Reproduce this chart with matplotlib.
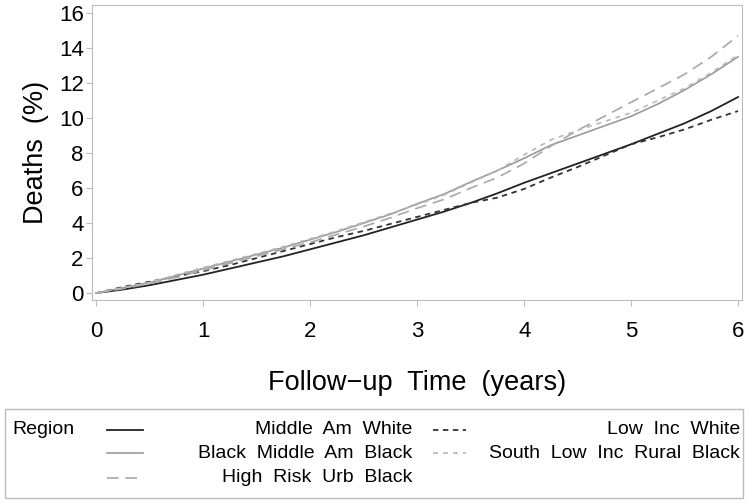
import matplotlib
matplotlib.use("Agg")
import matplotlib.pyplot as plt
from matplotlib.lines import Line2D
from matplotlib.patches import Rectangle

plt.rcParams["font.family"] = ["Liberation Sans", "DejaVu Sans"]

years = [0, 0.25, 0.5, 0.75, 1, 1.25, 1.5, 1.75, 2, 2.25, 2.5, 2.75, 3,
         3.25, 3.5, 3.75, 4, 4.25, 4.5, 4.75, 5, 5.25, 5.5, 5.75, 6]

mid_am_white = [0, 0.2, 0.45, 0.75, 1.05, 1.4, 1.75, 2.1, 2.5, 2.9, 3.3, 3.75, 4.2,
                4.65, 5.15, 5.7, 6.3, 6.85, 7.4, 7.95, 8.5, 9.1, 9.7, 10.4, 11.2]
low_inc_white = [0, 0.35, 0.65, 0.95, 1.25, 1.6, 2.0, 2.4, 2.8, 3.2, 3.55, 3.95, 4.35,
                 4.75, 5.15, 5.45, 5.95, 6.6, 7.2, 7.85, 8.5, 8.9, 9.35, 9.9, 10.4]
black_mid_am = [0, 0.3, 0.6, 1.0, 1.4, 1.8, 2.2, 2.6, 3.05, 3.5, 4.0, 4.5, 5.1,
                5.65, 6.35, 7.0, 7.7, 8.45, 9.0, 9.55, 10.1, 10.8, 11.6, 12.5, 13.5]
high_risk_urb = [0, 0.25, 0.55, 0.9, 1.3, 1.7, 2.1, 2.5, 2.9, 3.35, 3.8, 4.3, 4.85,
                 5.35, 6.0, 6.6, 7.4, 8.4, 9.3, 10.1, 10.9, 11.7, 12.5, 13.5, 14.7]
south_rural = [0, 0.3, 0.6, 1.05, 1.45, 1.85, 2.25, 2.65, 3.1, 3.55, 4.05, 4.55, 5.05,
               5.6, 6.3, 7.0, 7.9, 8.75, 9.3, 9.8, 10.3, 11.0, 11.7, 12.6, 13.6]

series = [
    ("Middle  Am  White", mid_am_white, "#222222", "-", 1.3),
    ("Low  Inc  White", low_inc_white, "#333333", (0, (3, 2.5)), 1.3),
    ("Black  Middle  Am  Black", black_mid_am, "#9a9a9a", "-", 1.2),
    ("High  Risk  Urb  Black", high_risk_urb, "#a8a8a8", (0, (7, 4)), 1.2),
    ("South  Low  Inc  Rural  Black", south_rural, "#b8b8b8", (0, (3, 3)), 1.2),
]

fig = plt.figure(figsize=(7.5, 5.04), dpi=100)
ax = fig.add_axes([92 / 750, 1 - 300 / 504, 650 / 750, 295 / 504])

for label, values, color, style, width in series:
    ax.plot(years, values, color=color, linestyle=style, linewidth=width)

ax.set_xlim(-0.042, 6.037)
ax.set_ylim(-0.4, 16.46)
ax.set_xticks(range(0, 7))
ax.set_yticks(range(0, 17, 2))
for side in ["top", "right", "left", "bottom"]:
    ax.spines[side].set_color("#bbbbbb")
ax.tick_params(direction="out", length=4, color="#bbbbbb", labelsize=16)
ax.tick_params(axis="x", pad=11)
ax.tick_params(axis="y", pad=2)
ax.set_ylabel("Deaths  (%)", fontsize=19.5, labelpad=7)
ax.set_xlabel("Follow\u2212up  Time  (years)", fontsize=19.5, labelpad=20)

# legend drawn by hand to mimic the SAS layout
fig.patches.append(Rectangle((5 / 750, 1 - 498 / 504), 738 / 750, 89 / 504,
                             transform=fig.transFigure, fill=False,
                             edgecolor="#bbbbbb", linewidth=1.0))
fig.text(12 / 750, 1 - 430 / 504, "Region", fontsize=14, va="center", ha="left")

slots = [
    (107, 143, 412, 430),
    (433, 466, 740, 430),
    (107, 143, 412, 453),
    (433, 466, 740, 453),
    (107, 143, 412, 478),
]
order = [0, 1, 2, 4, 3]
for (x0, x1, xt, y), idx in zip(slots, order):
    label, values, color, style, width = series[idx]
    yy = 1 - y / 504
    fig.lines.append(Line2D([x0 / 750, x1 / 750], [yy, yy], transform=fig.transFigure,
                            color=color, linestyle=style, linewidth=width))
    fig.text(xt / 750, yy, label, fontsize=14, va="center", ha="right")

fig.savefig("out.png", dpi=100)
